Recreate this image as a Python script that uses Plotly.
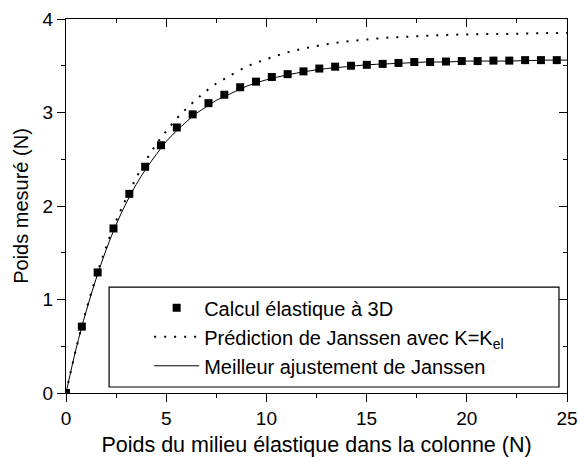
import plotly.graph_objects as go

# --- data ---
calc_x = [0, 0.79, 1.58, 2.37, 3.16, 3.95, 4.74, 5.53, 6.32, 7.11, 7.9, 8.69,
          9.48, 10.27, 11.06, 11.85, 12.64, 13.43, 14.22, 15.01, 15.8, 16.59,
          17.38, 18.17, 18.96, 19.75, 20.54, 21.33, 22.12, 22.91, 23.7, 24.49]
calc_y = [0, 0.71, 1.29, 1.76, 2.13, 2.42, 2.65, 2.84, 2.98, 3.10, 3.19, 3.27,
          3.33, 3.38, 3.41, 3.44, 3.47, 3.49, 3.50, 3.51, 3.52, 3.53,
          3.54, 3.54, 3.545, 3.55, 3.55, 3.555, 3.555, 3.56, 3.56, 3.56]

curve_x = [0, 0.5, 1, 1.5, 2, 2.5, 3, 3.5, 4, 4.5, 5, 5.5, 6, 6.5, 7, 7.5, 8,
           9, 10, 11, 12, 13, 14, 15, 16, 17, 18, 19, 20, 21, 22, 23, 24, 25]
pred_y = [0, 0.47, 0.88, 1.24, 1.56, 1.84, 2.08, 2.30, 2.49, 2.66, 2.80, 2.93,
          3.04, 3.14, 3.23, 3.31, 3.37, 3.49, 3.57, 3.64, 3.69, 3.73, 3.76,
          3.78, 3.80, 3.81, 3.82, 3.83, 3.835, 3.84, 3.84, 3.845, 3.85, 3.85]
fit_y = [0, 0.47, 0.87, 1.22, 1.53, 1.80, 2.03, 2.23, 2.40, 2.55, 2.69, 2.80,
         2.90, 2.99, 3.06, 3.13, 3.18, 3.28, 3.35, 3.40, 3.44, 3.47, 3.49,
         3.51, 3.52, 3.53, 3.54, 3.54, 3.55, 3.55, 3.55, 3.555, 3.56, 3.56]

x_range = [0, 25]
y_range = [0, 4]
x_ticks = [0, 5, 10, 15, 20, 25]
y_ticks = [0, 1, 2, 3, 4]

FONT = "Arial, 'Liberation Sans', sans-serif"

fig = go.Figure()
fig.add_trace(go.Scatter(
    x=calc_x, y=calc_y, mode="markers", name="Calcul élastique à 3D",
    marker=dict(symbol="square", size=8, color="black"),
    legendgroup="a"))
fig.add_trace(go.Scatter(
    x=curve_x, y=pred_y, mode="lines", line_shape="spline",
    name="Prédiction de Janssen avec K=K<sub>el</sub>",
    line=dict(color="black", width=2, dash="2px,8px"),
    legendgroup="b"))
fig.add_trace(go.Scatter(
    x=curve_x, y=fit_y, mode="lines", line_shape="spline",
    name="Meilleur ajustement de Janssen",
    line=dict(color="black", width=1),
    legendgroup="c"))
# helper trace for mirrored axes (top / right, inward ticks)
fig.add_trace(go.Scatter(x=[None], y=[None], xaxis="x2", yaxis="y2",
                         showlegend=False, hoverinfo="skip"))

axis_common = dict(showgrid=False, zeroline=False, linecolor="black",
                   linewidth=1.3, tickcolor="black", tickwidth=1.3,
                   automargin=False)

fig.update_layout(
    width=579, height=457,
    margin=dict(l=66, r=12, t=19, b=64),
    paper_bgcolor="white", plot_bgcolor="white",
    font=dict(family=FONT, color="black", size=19),
    showlegend=True,
    xaxis=dict(range=x_range, tickvals=x_ticks, ticks="outside", ticklen=8,
               minor=dict(dtick=2.5, ticks="outside", ticklen=4,
                          tickcolor="black", tickwidth=1.3),
               title=dict(text="Poids du milieu élastique dans la colonne (N)",
                          font=dict(size=21.5), standoff=8),
               tickfont=dict(size=19), **axis_common),
    yaxis=dict(range=y_range, tickvals=y_ticks, ticks="outside", ticklen=8,
               minor=dict(dtick=0.5, ticks="outside", ticklen=4,
                          tickcolor="black", tickwidth=1.3),
               title=dict(text="Poids mesuré (N)", font=dict(size=20),
                          standoff=8),
               tickfont=dict(size=19), **axis_common),
    xaxis2=dict(range=x_range, overlaying="x", side="top", tickvals=x_ticks,
                ticks="inside", ticklen=8, showticklabels=False,
                minor=dict(dtick=2.5, ticks="inside", ticklen=4,
                           tickcolor="black", tickwidth=1.3),
                **axis_common),
    yaxis2=dict(range=y_range, overlaying="y", side="right", tickvals=y_ticks,
                ticks="inside", ticklen=8, showticklabels=False,
                minor=dict(dtick=0.5, ticks="inside", ticklen=4,
                           tickcolor="black", tickwidth=1.3),
                **axis_common),
    legend=dict(x=0.166, xanchor="left", y=0.28, yanchor="top",
                bgcolor="rgba(0,0,0,0)", borderwidth=0,
                font=dict(size=20), itemwidth=45, tracegroupgap=0,
                traceorder="normal"),
    shapes=[dict(type="rect", xref="paper", yref="paper",
                 x0=0.086, x1=0.984, y0=0.016, y1=0.283,
                 line=dict(color="black", width=1.2),
                 fillcolor="rgba(0,0,0,0)", layer="above")],
)

fig.write_html("out.html",
               config={"displayModeBar": False},
               post_script="document.body.style.margin='0';"
                           "document.body.style.overflow='hidden';")
